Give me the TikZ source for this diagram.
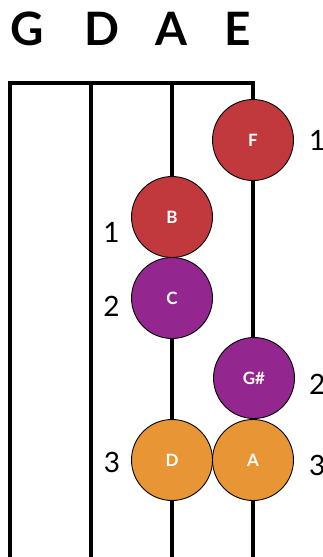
\documentclass[tikz,border=0pt]{standalone}
\usepackage{fontspec}
\setmainfont{Lato}
\definecolor{nred}{HTML}{C1393C}
\definecolor{npurple}{HTML}{93278F}
\definecolor{norange}{HTML}{E89536}
\begin{document}
\begin{tikzpicture}[x=1pt,y=-1pt,
  note/.style={circle,draw=black,line width=0.9pt,minimum size=81pt,inner sep=0pt,text=white,font=\bfseries\fontsize{17}{17}\selectfont},
  strname/.style={font=\bfseries\fontsize{46}{46}\selectfont,inner sep=0pt},
  fing/.style={font=\fontsize{28}{28}\selectfont,inner sep=0pt},
  str/.style={line width=4pt,line cap=butt}]
\useasboundingbox (0,0) rectangle (323,557);
\clip (0,0) rectangle (323,557);
% strings
\draw[str,line join=miter] (10,557) -- (10,83) -- (253,83) -- (253,557);
\draw[str] (91,83) -- (91,557);
\draw[str] (172,83) -- (172,557);
% string names
\node[strname] (nG) at (27.5,28.5) {G};
\node[strname] (nD) at (101.5,28.5) {D};
\node[strname] (nA) at (171.5,28.5) {A};
\node[strname] (nE) at (238,28.5) {E};
% notes
\node[note,fill=nred] (F) at (253,140) {F};
\node[note,fill=nred] (B) at (172,217) {B};
\node[note,fill=npurple] (C) at (172,298) {C};
\node[note,fill=npurple] (Gs) at (254,378) {G\#};
\node[note,fill=norange] (Dn) at (172,460) {D};
\node[note,fill=norange] (An) at (253,460) {A};
% fingers
\node[fing] (f1l) at (111.5,232) {1};
\node[fing] (f2l) at (111.5,306) {2};
\node[fing] (f3l) at (112,462) {3};
\node[fing,anchor=west] (f1r) at (309,140) {1};
\node[fing,anchor=west] (f2r) at (309,384) {2};
\node[fing,anchor=west] (f3r) at (309,465) {3};
\end{tikzpicture}
\end{document}
